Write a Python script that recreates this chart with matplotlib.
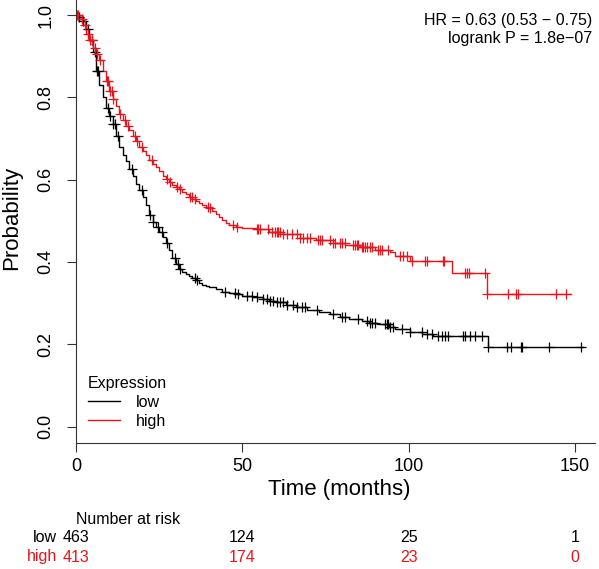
import numpy as np
import matplotlib.pyplot as plt
from matplotlib.lines import Line2D
from matplotlib.transforms import blended_transform_factory

plt.rcParams['font.family'] = ['Liberation Sans', 'DejaVu Sans']

# Kaplan-Meier step knots (months, survival)
low_t = [0, 1, 2, 3, 4, 5, 6, 7, 8, 9, 10, 11, 12, 13, 14, 15, 16, 17, 18, 19, 20, 21, 22,
         23, 24, 25, 26, 27, 28, 29, 30, 31, 32, 33, 34, 35, 36, 37, 38, 39, 40, 42, 44,
         46, 48, 50, 53, 56.2, 58, 60, 63, 66, 69.4, 73, 76.3, 79.3, 82, 86, 88, 90.4, 94,
         96, 100.3, 104, 107.2, 123.7, 152.3]
low_s = [1.0, 0.995, 0.985, 0.965, 0.94, 0.91, 0.865, 0.83, 0.80, 0.775, 0.755, 0.735,
         0.705, 0.68, 0.66, 0.645, 0.625, 0.608, 0.59, 0.575, 0.558, 0.538, 0.515, 0.498,
         0.485, 0.473, 0.46, 0.447, 0.43, 0.41, 0.395, 0.383, 0.375, 0.37, 0.365, 0.36,
         0.355, 0.35, 0.345, 0.341, 0.338, 0.334, 0.328, 0.324, 0.321, 0.318, 0.315, 0.311,
         0.306, 0.302, 0.295, 0.29, 0.284, 0.278, 0.274, 0.267, 0.262, 0.256, 0.252, 0.248,
         0.242, 0.236, 0.229, 0.225, 0.219, 0.194, 0.194]

high_t = [0, 1, 2, 3, 4, 5, 6, 7, 8, 9, 10, 11, 12, 13, 14, 15, 16, 17, 18, 19, 20, 21,
          22, 23, 24, 25, 26, 27, 28, 29, 30, 31, 32, 33, 34, 35, 36, 37, 38, 39, 40, 41,
          42, 43, 44, 45, 46, 48, 50, 54.3, 58, 62.2, 67.3, 72, 77.2, 81, 85.3, 90, 94.3,
          96, 100.3, 112.9, 123.4, 148.9]
high_s = [1.0, 0.99, 0.975, 0.955, 0.94, 0.92, 0.905, 0.89, 0.865, 0.84, 0.815, 0.795,
          0.778, 0.76, 0.745, 0.73, 0.72, 0.705, 0.693, 0.68, 0.67, 0.66, 0.648, 0.638,
          0.63, 0.62, 0.61, 0.602, 0.595, 0.588, 0.582, 0.577, 0.57, 0.565, 0.558, 0.553,
          0.548, 0.543, 0.538, 0.534, 0.53, 0.524, 0.516, 0.51, 0.502, 0.495, 0.489, 0.486,
          0.483, 0.479, 0.473, 0.467, 0.459, 0.453, 0.447, 0.442, 0.437, 0.43, 0.423, 0.415,
          0.403, 0.374, 0.321, 0.321]

# censoring times (months)
low_cens = [1.0, 2.0, 3.6, 4.8, 5.7, 6.3, 6.6, 9.6, 10.2, 11.1, 11.7, 12.6, 16.8, 19.8,
            22.2, 23.1, 24.6, 25.8, 27.3, 29.7, 30.6, 31.2, 35.7, 36.3, 44.7, 47.7, 48.6,
            51.4, 52.9, 54.4, 56.2, 57.4, 58.3, 59.2, 60.4, 61.3, 62.2, 63.4, 65.2, 66.4,
            67.9, 68.8, 72.4, 77.2, 79.9, 80.8, 84.7, 87.4, 88.3, 88.9, 89.8, 92.8, 93.4,
            93.7, 94.3, 95.2, 97.9, 100.3, 103.9, 105.4, 106.9, 108.7, 109.9, 110.8, 111.7,
            116.2, 116.8, 118.3, 119.8, 121.9, 123.7, 129.4, 130.9, 133.9, 134.2, 142.3,
            151.9]
high_cens = [0.3, 0.6, 1.8, 2.7, 3.6, 4.2, 4.8, 5.7, 6.3, 7.2, 9.3, 9.6, 10.2, 10.8, 11.1,
             13.2, 14.7, 15.6, 17.7, 18.3, 19.8, 22.8, 27.3, 28.2, 30.3, 31.2, 34.2, 34.8,
             35.7, 39.6, 40.2, 47.1, 48.3, 54.4, 54.7, 55.3, 57.7, 58.9, 59.8, 60.4, 60.7,
             61.3, 62.2, 63.4, 64.9, 66.4, 67.3, 68.2, 69.4, 70.3, 72.7, 73.3, 73.9, 76.3,
             77.2, 77.8, 79.3, 79.9, 80.8, 83.2, 83.8, 84.4, 84.7, 85.9, 86.2, 86.8, 87.4,
             88.3, 88.9, 90.7, 91.3, 91.9, 93.7, 97.3, 98.2, 99.4, 100.9, 104.8, 105.4,
             110.2, 110.5, 116.8, 117.4, 118.0, 122.8, 123.4, 129.7, 132.4, 133.0, 144.4,
             147.4]

risk_times = [0, 50, 100, 150]
low_risk = [463, 124, 25, 1]
high_risk = [413, 174, 23, 0]

RED = '#e8141b'


def step_at(t, s, c):
    idx = np.searchsorted(t, c, side='right') - 1
    return np.asarray(s)[idx]


fig = plt.figure(figsize=(5.99, 5.69), dpi=100)
ax = fig.add_axes([76 / 599, 1 - 443 / 569, (595 - 76) / 599, 444.4 / 569])

ax.step(low_t, low_s, where='post', color='black', lw=1.0)
ax.step(high_t, high_s, where='post', color=RED, lw=1.0)
ax.plot(low_cens, step_at(low_t, low_s, low_cens), '+', color='black', ms=7, mew=0.9)
ax.plot(high_cens, step_at(high_t, high_s, high_cens), '+', color=RED, ms=7, mew=0.9)

ax.set_xlim(0, 156)
ax.set_ylim(-0.04, 1.04)
ax.set_xticks([0, 50, 100, 150])
ax.set_yticks([0.0, 0.2, 0.4, 0.6, 0.8, 1.0])
ax.set_yticklabels(['0.0', '0.2', '0.4', '0.6', '0.8', '1.0'], rotation=90, va='center')
ax.tick_params(axis='both', labelsize=13, length=6.5, width=0.8, color='#333333')
ax.tick_params(axis='x', pad=4)
ax.tick_params(axis='y', pad=9)
for sp in ['top', 'right']:
    ax.spines[sp].set_visible(False)
for sp in ['left', 'bottom']:
    ax.spines[sp].set_linewidth(0.8)
    ax.spines[sp].set_color('#333333')

fig.text(339 / 599, 1 - 490 / 569, 'Time (months)', ha='center', va='center', fontsize=16)
fig.text(12 / 599, 1 - 218 / 569, 'Probability', ha='center', va='center',
         rotation=90, fontsize=16)

fig.text(592 / 599, 1 - 20 / 569, 'HR = 0.63 (0.53 \u2212 0.75)', ha='right', va='center',
         fontsize=11.5)
fig.text(592 / 599, 1 - 39 / 569, 'logrank P = 1.8e\u221207', ha='right', va='center',
         fontsize=11.5)

handles = [Line2D([], [], color='black', lw=1.0), Line2D([], [], color=RED, lw=1.0)]
leg = fig.legend(handles, ['low', 'high'], title='Expression', loc='lower left',
                 bbox_to_anchor=(80 / 599, 1 - 437 / 569), frameon=False, fontsize=11.5,
                 title_fontsize=11.5, handlelength=2.0, handletextpad=1.0,
                 labelspacing=0.25, borderpad=0, alignment='left')

tr = blended_transform_factory(ax.transData, fig.transFigure)
fig.text(76 / 599, 1 - 520 / 569, 'Number at risk', ha='left', va='center', fontsize=11.5)
fig.text(57 / 599, 1 - 538 / 569, 'low', ha='right', va='center', fontsize=11.5)
fig.text(57 / 599, 1 - 557 / 569, 'high', ha='right', va='center', fontsize=11.5, color=RED)
for t, lo, hi in zip(risk_times, low_risk, high_risk):
    ax.text(t, 1 - 538 / 569, str(lo), transform=tr, ha='center', va='center',
            fontsize=11.5, clip_on=False)
    ax.text(t, 1 - 557 / 569, str(hi), transform=tr, ha='center', va='center',
            fontsize=11.5, color=RED, clip_on=False)

fig.savefig('out.png', dpi=100)
